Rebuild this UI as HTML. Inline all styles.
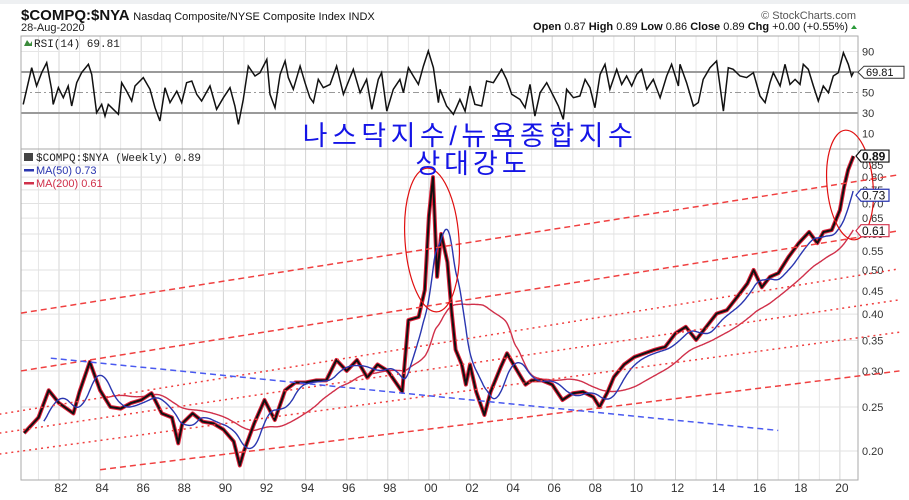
<!DOCTYPE html>
<html><head><meta charset="utf-8"><style>
html,body{margin:0;padding:0;background:#fff;}
svg{display:block;}
</style></head><body>
<svg id="chart" width="909" height="500" viewBox="0 0 909 500" xmlns="http://www.w3.org/2000/svg" font-family="Liberation Sans, sans-serif">
<rect x="0" y="0" width="909" height="4" fill="#eef0f2"/>
<text x="21" y="20" font-size="15" font-weight="bold" fill="#111">$COMPQ:$NYA <tspan font-size="11" font-weight="normal">Nasdaq Composite/NYSE Composite Index  INDX</tspan></text>
<text x="21" y="31" font-size="11" fill="#222">28-Aug-2020</text>
<text x="856" y="19" font-size="11" fill="#555" text-anchor="end">© StockCharts.com</text>
<text x="848" y="30" font-size="11" fill="#111" text-anchor="end"><tspan font-weight="bold">Open</tspan> 0.87  <tspan font-weight="bold">High</tspan> 0.89  <tspan font-weight="bold">Low</tspan> 0.86  <tspan font-weight="bold">Close</tspan> 0.89  <tspan font-weight="bold">Chg</tspan> +0.00 (+0.55%)</text>
<polygon points="851,29 857,29 854,25" fill="#2a9a3a"/>
<g id="grid"></g>
<g id="rsi"></g>
<g id="main"></g>
<g id="overlay"></g>
</svg>
<script>
// ---- data ----
const priceYears = [1980.3,1981,1981.5,1982,1982.7,1983,1983.5,1984,1984.5,1985,1985.5,1986,1986.5,1987,1987.5,1987.8,1988,1988.5,1989,1989.5,1990,1990.5,1990.8,1991,1991.5,1992,1992.5,1993,1993.5,1994,1994.5,1995,1995.5,1996,1996.5,1997,1997.5,1998,1998.7,1999,1999.5,1999.8,2000.0,2000.2,2000.4,2000.6,2000.9,2001.1,2001.3,2001.6,2001.8,2002.0,2002.3,2002.7,2003,2003.5,2003.8,2004.3,2004.7,2005,2005.5,2006,2006.5,2007,2007.5,2008,2008.3,2008.7,2009,2009.5,2010,2010.5,2011,2011.5,2012,2012.5,2013,2013.5,2014,2014.5,2015,2015.5,2015.8,2016.2,2016.6,2017,2017.5,2018,2018.5,2018.9,2019.2,2019.6,2020,2020.2,2020.4,2020.66];
const priceValues = [0.219,0.237,0.272,0.255,0.242,0.27,0.314,0.272,0.25,0.248,0.255,0.259,0.268,0.242,0.237,0.208,0.23,0.242,0.232,0.23,0.223,0.21,0.186,0.2,0.23,0.259,0.234,0.272,0.283,0.283,0.286,0.286,0.317,0.3,0.317,0.29,0.31,0.3,0.27,0.388,0.394,0.452,0.657,0.80,0.483,0.60,0.52,0.408,0.334,0.31,0.28,0.31,0.27,0.24,0.27,0.306,0.328,0.3,0.28,0.286,0.286,0.28,0.259,0.268,0.27,0.263,0.25,0.27,0.291,0.31,0.322,0.328,0.334,0.339,0.363,0.375,0.351,0.375,0.401,0.408,0.436,0.467,0.5,0.458,0.483,0.492,0.534,0.573,0.606,0.573,0.606,0.612,0.677,0.76,0.83,0.89];
const rsiYears = [1980.26,1980.67,1980.91,1981.16,1981.40,1981.64,1981.72,1981.97,1982.21,1982.45,1982.62,1982.86,1983.10,1983.43,1983.59,1983.83,1984.08,1984.24,1984.40,1984.64,1984.89,1985.05,1985.29,1985.54,1985.70,1986.10,1986.43,1986.67,1986.91,1987.16,1987.40,1987.73,1987.97,1988.21,1988.46,1988.70,1988.94,1989.35,1989.67,1990.00,1990.32,1990.56,1990.73,1990.97,1991.21,1991.54,1991.78,1992.11,1992.27,1992.51,1992.76,1993.00,1993.16,1993.40,1993.73,1993.97,1994.21,1994.38,1994.62,1994.86,1995.19,1995.51,1995.84,1996.16,1996.32,1996.65,1996.97,1997.22,1997.54,1997.70,1997.95,1998.27,1998.59,1998.76,1999.00,1999.24,1999.49,1999.73,1999.97,2000.22,2000.46,2000.54,2000.86,2001.19,2001.51,2001.76,2002.00,2002.24,2002.57,2002.81,2003.14,2003.54,2003.78,2004.03,2004.43,2004.68,2004.92,2005.16,2005.41,2005.73,2006.06,2006.30,2006.54,2006.70,2007.03,2007.35,2007.60,2007.84,2008.08,2008.33,2008.57,2008.81,2009.14,2009.38,2009.62,2009.87,2010.11,2010.35,2010.60,2010.92,2011.25,2011.57,2011.81,2012.14,2012.22,2012.54,2012.87,2013.11,2013.35,2013.68,2014.00,2014.33,2014.57,2014.81,2015.14,2015.46,2015.79,2016.11,2016.36,2016.60,2016.76,2017.09,2017.33,2017.57,2017.82,2018.06,2018.22,2018.46,2018.71,2018.95,2019.19,2019.44,2019.68,2019.92,2020.17,2020.41,2020.57,2020.66];
const rsiValues = [38.4,74.2,56.3,69.3,79.1,53.1,38.4,54.7,44.9,56.3,36.8,59.6,69.3,77.5,67.7,30.3,38.4,27.0,38.4,33.6,28.7,59.6,51.4,41.7,56.3,64.5,53.1,35.2,22.2,54.7,40.1,51.4,40.1,59.6,61.2,48.2,41.7,56.3,33.6,44.9,54.7,36.8,18.9,43.3,75.8,66.1,69.3,82.3,48.2,35.2,67.7,80.7,64.5,53.1,75.8,59.6,44.9,40.1,62.8,54.7,57.9,75.8,48.2,64.5,72.6,49.8,62.8,33.6,62.8,69.3,31.9,53.1,62.8,49.8,74.2,66.1,57.9,75.8,90.5,74.2,40.1,53.1,36.8,28.7,43.3,31.9,56.3,38.4,36.8,61.2,59.6,72.6,62.8,48.2,43.3,35.2,57.9,27.0,49.8,59.6,46.6,36.8,23.8,53.1,44.9,46.6,62.8,54.7,35.2,67.7,77.5,53.1,72.6,57.9,66.1,56.3,67.7,72.6,53.1,62.8,44.9,66.1,77.5,56.3,77.5,59.6,36.8,40.1,62.8,74.2,80.7,31.9,74.2,72.6,66.1,64.5,69.3,46.6,40.1,59.6,69.3,56.3,77.5,57.9,62.8,57.9,77.5,72.6,56.3,41.7,56.3,49.8,66.1,69.3,88.8,77.5,66.1,69.81];
const yearTicks = [1982,1984,1986,1988,1990,1992,1994,1996,1998,2000,2002,2004,2006,2008,2010,2012,2014,2016,2018,2020];
const yearLabels = ["82","84","86","88","90","92","94","96","98","00","02","04","06","08","10","12","14","16","18","20"];
const priceTicks = [0.20,0.25,0.30,0.35,0.40,0.45,0.50,0.55,0.60,0.65,0.70,0.75,0.80,0.85];
const rsiTicks = [90,70,50,30,10];
const redTrendLines = [[1980.15,0.402,2022.9,0.81],[1980.15,0.30,2022.9,0.61],[1979.1,0.241,2022.9,0.503],[1979.1,0.219,2022.9,0.43],[1979.1,0.197,2022.9,0.365],[1984.0,0.182,2022.9,0.30]];
const redTrendStyles = ["6,4","6,4","2,4","2,4","2,4","6,4"];
const blueTrendLine = [1981.6,0.32,2017.0,0.222];

// ---- scales ----
const X0=21, X1=858, MT=149, MB=480, RT=36, RB=149;
function xs(yr){return 59+(yr-1982)*20.55;}
function ys(v){return 270-197.6*Math.log(v/0.5);}
function yr(r){return 72+(70-r)*1.025;}
const NS="http://www.w3.org/2000/svg";
function mk(tag,attrs,parent){const e=document.createElementNS(NS,tag);for(const k in attrs)e.setAttribute(k,attrs[k]);parent.appendChild(e);return e;}
const grid=document.getElementById('grid'), rsiG=document.getElementById('rsi'), mainG=document.getElementById('main'), ov=document.getElementById('overlay');

const defs=mk('defs',{},document.getElementById('chart'));
const cm=mk('clipPath',{id:'clipMain'},defs); mk('rect',{x:X0,y:MT,width:X1-X0,height:MB-MT},cm);
const cr=mk('clipPath',{id:'clipRsi'},defs); mk('rect',{x:X0,y:RT,width:X1-X0,height:RB-RT},cr);

for(let y=1981;y<=2020;y++){
  const x=xs(y); if(x<X0||x>X1)continue;
  const c=(y%2===0)?'#d4d4d4':'#e6e6e6';
  const l1=mk('line',{x1:x,x2:x,y1:RT,y2:RB,stroke:c,'stroke-width':1},grid);
  
  
  const l2=mk('line',{x1:x,x2:x,y1:MT,y2:MB,stroke:c,'stroke-width':1},grid);
  
  
}
priceTicks.forEach(v=>{
  const y=ys(v);
  const l=mk('line',{x1:X0,x2:X1,y1:y,y2:y,stroke:'#e2e2e2','stroke-width':1},grid);
  
  
  const t=mk('text',{x:862,y:y+4,'font-size':11,fill:'#333'},grid);
  t.textContent=v.toFixed(2);
  
  
});
yearTicks.forEach((yv,i)=>{
  const t=mk('text',{x:xs(yv)+2,y:492,'font-size':12,fill:'#333','text-anchor':'middle'},grid);
  t.textContent=yearLabels[i];
  
  
});
rsiTicks.forEach(r=>{
  const y=yr(r);
  if(r===70||r===30){const l=mk('line',{x1:X0,x2:X1,y1:y,y2:y,stroke:'#9a9a9a','stroke-width':2},grid);}
  else if(r===50){const l=mk('line',{x1:X0,x2:X1,y1:y,y2:y,stroke:'#999','stroke-width':1,'stroke-dasharray':'6,3,2,3'},grid);}
  else if(r===90){const l=mk('line',{x1:X0,x2:X1,y1:y,y2:y,stroke:'#e6e6e6','stroke-width':1},grid);}
  const t=mk('text',{x:862,y:y+4,'font-size':11,fill:'#333'},grid);
  t.textContent=String(r);
  
  
});
const f1=mk('rect',{x:X0,y:RT,width:X1-X0,height:RB-RT,fill:'none',stroke:'#aaa','stroke-width':1},grid);


const f2=mk('rect',{x:X0,y:MT,width:X1-X0,height:MB-MT,fill:'none',stroke:'#aaa','stroke-width':1},grid);



const rsiPts=rsiYears.map((y,i)=>xs(y).toFixed(1)+','+yr(rsiValues[i]).toFixed(1)).join(' ');
const rl=mk('polyline',{points:rsiPts,fill:'none',stroke:'#111','stroke-width':1.5,'clip-path':'url(#clipRsi)'},rsiG);


const rt=mk('text',{x:34,y:47,'font-size':11,fill:'#222','font-family':'Liberation Mono, monospace'},rsiG);
rt.textContent='RSI(14) 69.81';


mk('polygon',{points:'24,46 27,40 30,44 32,41 32,46',fill:'#3a8a3a'},rsiG);
const rv=rsiValues[rsiValues.length-1], ry=yr(rv);
const rtag=mk('path',{d:`M858,${ry} l6,-6 h40 v12 h-40 z`,fill:'#fff',stroke:'#333','stroke-width':1},rsiG);


const rtt=mk('text',{x:866,y:ry+4,'font-size':11,fill:'#111'},rsiG); rtt.textContent=rv.toFixed(2);

function priceAt(t){
  if(t<=priceYears[0])return priceValues[0];
  for(let i=1;i<priceYears.length;i++){if(t<=priceYears[i]){const a=(t-priceYears[i-1])/(priceYears[i]-priceYears[i-1]);return priceValues[i-1]+a*(priceValues[i]-priceValues[i-1]);}}
  return priceValues[priceValues.length-1];
}
function maPts(win){
  const pts=[];const start=priceYears[0]+win, end=priceYears[priceYears.length-1];
  for(let t=start;t<=end+1e-9;t+=1/26){let s=0,n=0;for(let u=t-win;u<=t;u+=1/52){s+=priceAt(u);n++;}pts.push(xs(t).toFixed(1)+','+ys(s/n).toFixed(1));}
  return pts;
}
const ma200=mk('polyline',{points:maPts(3.85).join(' '),fill:'none',stroke:'#d0304a','stroke-width':1.4,'clip-path':'url(#clipMain)'},mainG);



const pp=priceYears.map((y,i)=>xs(y).toFixed(1)+','+ys(priceValues[i]).toFixed(1)).join(' ');
const pr=mk('polyline',{points:pp,fill:'none',stroke:'#e0203a','stroke-width':4,'stroke-linejoin':'round','clip-path':'url(#clipMain)'},mainG);


const pb=mk('polyline',{points:pp,fill:'none',stroke:'#111','stroke-width':2,'stroke-linejoin':'round','clip-path':'url(#clipMain)'},mainG);


const ma50=mk('polyline',{points:maPts(0.96).join(' '),fill:'none',stroke:'#2a36b0','stroke-width':1.4,'clip-path':'url(#clipMain)'},mainG);



redTrendLines.forEach((L,i)=>{
  const l=mk('line',{x1:xs(L[0]),y1:ys(L[1]),x2:xs(L[2]),y2:ys(L[3]),stroke:'#f04040','stroke-width':1.5,'stroke-dasharray':redTrendStyles[i]},ov);
  
  
});
const bl=mk('line',{x1:xs(blueTrendLine[0]),y1:ys(blueTrendLine[1]),x2:xs(blueTrendLine[2]),y2:ys(blueTrendLine[3]),stroke:'#4a5af0','stroke-width':1.5,'stroke-dasharray':'6,4'},ov);



const e1=mk('ellipse',{cx:432,cy:240,rx:27,ry:72,fill:'none',stroke:'#e01010','stroke-width':1.2,transform:'rotate(-4 432 240)'},ov);


const e2=mk('ellipse',{cx:850,cy:185,rx:23,ry:55,fill:'none',stroke:'#e01010','stroke-width':1.2,transform:'rotate(-5 850 185)'},ov);



const lg=[['$COMPQ:$NYA (Weekly) 0.89','#222',161],['MA(50) 0.73','#2a36b0',174],['MA(200) 0.61','#d0304a',187]];
lg.forEach((L,i)=>{
  const t=mk('text',{x:36,y:L[2],'font-size':11,fill:L[1],'font-family':i?'Liberation Sans, sans-serif':'Liberation Mono, monospace'},ov);
  t.textContent=L[0];
  
  
  if(i>0)mk('rect',{x:24,y:L[2]-5,width:10,height:2.5,fill:L[1]},ov);
});
mk('rect',{x:24,y:153,width:9,height:8,fill:'#444'},ov);

[[priceValues[priceValues.length-1],'#111','price-value-tag',true],[0.73,'#2a36b0','ma50-value-tag',false],[0.61,'#d0304a','ma200-value-tag',false]].forEach(T=>{
  const y=ys(T[0]);
  const p=mk('path',{d:`M856,${y} l5,-6 h28 v12 h-28 z`,fill:'#fff',stroke:T[1],'stroke-width':1.2},ov);
  
  
  const t=mk('text',{x:862,y:y+4.5,'font-size':12,fill:'#111','font-weight':T[3]?'bold':'normal'},ov);
  t.textContent=T[0].toFixed(2);
});

const k1=mk('text',{x:470,y:145,'font-size':27,fill:'#1414e6','text-anchor':'middle','font-family':'Liberation Sans, Noto Sans CJK KR, sans-serif','letter-spacing':'4.5'},ov);
k1.textContent='나스닥지수/뉴욕종합지수';


const k2=mk('text',{x:473,y:173,'font-size':27,fill:'#1414e6','text-anchor':'middle','font-family':'Liberation Sans, Noto Sans CJK KR, sans-serif','letter-spacing':'4'},ov);
k2.textContent='상대강도';


</script>
</body></html>
